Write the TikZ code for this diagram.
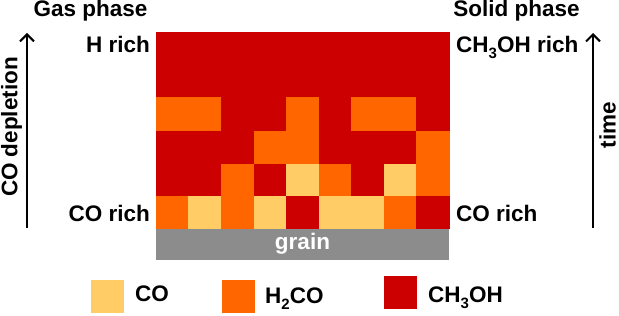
\documentclass[tikz,border=0pt]{standalone}
\usepackage{fontspec}
\setmainfont{Liberation Sans}
\usepackage{xcolor}
\usetikzlibrary{positioning, arrows.meta}
\definecolor{cellY}{HTML}{FFCC66}
\definecolor{cellO}{HTML}{FF6600}
\definecolor{cellR}{HTML}{CC0000}
\definecolor{grainfill}{HTML}{8C8C8C}
\newcommand{\chemsub}[1]{\raisebox{-0.5ex}{\fontsize{15}{15}\selectfont #1}}

\begin{document}
\begin{tikzpicture}[
    x=1pt, y=1pt,
    txt/.style={inner sep=0pt, font=\fontsize{22.5}{26}\selectfont\bfseries},
    cell/.style={rectangle, inner sep=0pt, outer sep=0pt, minimum width=32.56pt,
                 minimum height=32.6pt, anchor=south west, line width=0.3pt},
    legbox/.style={rectangle, inner sep=0pt, minimum size=33pt},
    arrow/.style={-{Straight Barb[length=7pt, width=14pt]}, line width=2pt, black}
  ]
    \useasboundingbox (0,0) rectangle (619,316);

    % grain and ice layers
    \node[rectangle, fill=grainfill, minimum width=293pt, minimum height=32pt,
          inner sep=0pt, text=white, font=\fontsize{22.5}{26}\selectfont\bfseries]
          (grain) at (302.5,72) {grain};
    \node[cell, fill=cellR, draw=cellR, minimum width=293pt, minimum height=65pt]
          (topblock) at (156,218.5) {};
    \foreach \row/\colors in {1/{O,Y,O,Y,R,Y,Y,O,R}, 2/{R,R,O,R,Y,O,R,Y,O},
                              3/{R,R,R,O,O,R,R,R,O}, 4/{O,O,R,R,O,R,O,O,R}}{
      \foreach \c [count=\i] in \colors
        \node[cell, fill=cell\c, draw=cell\c] (c\row\i) at ({156+(\i-1)*32.56},{88+(\row-1)*32.6}) {};
    }

    % side labels
    \node[txt, anchor=base] (gas) at (90.5,299) {Gas phase};
    \node[txt, anchor=base] (solid) at (516.5,299) {Solid phase};
    \node[txt, anchor=base east] (hrich) at (150,263) {H rich};
    \node[txt, anchor=base east] (corichL) at (150,94) {CO rich};
    \node[txt, anchor=base west] (methrich) at (456,263) {CH\chemsub{3}OH rich};
    \node[txt, anchor=base west] (corichR) at (456,94) {CO rich};

    % arrows
    \coordinate (depfoot) at (27,88);
    \coordinate (deptip) at (27,283);
    \coordinate (timefoot) at (593,88);
    \coordinate (timetip) at (593,283);
    \draw[arrow] (depfoot) -- (deptip);
    \draw[arrow] (timefoot) -- (timetip);
    \node[txt, rotate=90, anchor=base] (depl) at (17.5,189) {CO depletion};
    \node[txt, rotate=90, anchor=base] (time) at (615.5,191) {time};

    % legend
    \node[legbox, fill=cellY] (cosq) at (107.5,19.5) {};
    \node[legbox, fill=cellO] (hcosq) at (238,19.5) {};
    \node[legbox, fill=cellR] (ohsq) at (400.5,23) {};
    \node[txt, anchor=base west] (colab) at (135,14) {CO};
    \node[txt, anchor=base west] (hcolab) at (265,12) {H\chemsub{2}CO};
    \node[txt, anchor=base west] (ohlab) at (428,13) {CH\chemsub{3}OH};
  \end{tikzpicture}
\end{document}
